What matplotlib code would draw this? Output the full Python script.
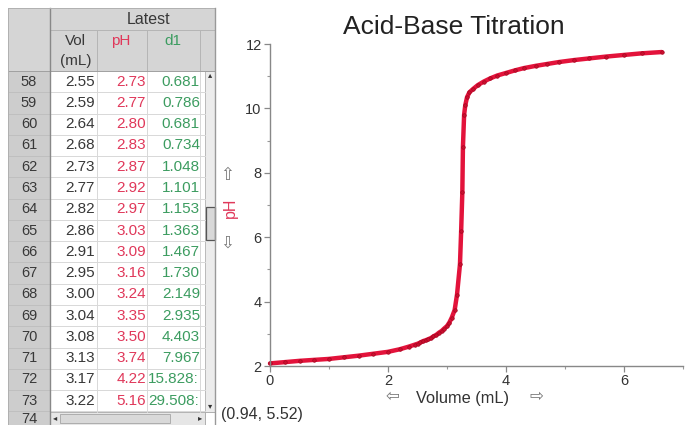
import matplotlib
matplotlib.use("Agg")
import matplotlib.pyplot as plt
from matplotlib.patches import Rectangle
from matplotlib.ticker import MultipleLocator

plt.rcParams['font.family'] = ['Liberation Sans', 'DejaVu Sans']

# ---------------- data ----------------
rows = [58, 59, 60, 61, 62, 63, 64, 65, 66, 67, 68, 69, 70, 71, 72, 73]
table_vol = [2.55, 2.59, 2.64, 2.68, 2.73, 2.77, 2.82, 2.86, 2.91, 2.95,
             3.00, 3.04, 3.08, 3.13, 3.17, 3.22]
table_ph = [2.73, 2.77, 2.80, 2.83, 2.87, 2.92, 2.97, 3.03, 3.09, 3.16,
            3.24, 3.35, 3.50, 3.74, 4.22, 5.16]
table_d1 = ["0.681", "0.786", "0.681", "0.734", "1.048", "1.101", "1.153",
            "1.363", "1.467", "1.730", "2.149", "2.935", "4.403", "7.967",
            "15.828", "29.508"]

pre_vol = [0.00, 0.25, 0.50, 0.75, 1.00, 1.25, 1.50, 1.75, 2.00, 2.20,
           2.35, 2.45, 2.50]
pre_ph = [2.08, 2.12, 2.16, 2.19, 2.22, 2.27, 2.32, 2.38, 2.44, 2.52,
          2.60, 2.66, 2.69]
post_vol = [3.24, 3.26, 3.27, 3.29, 3.31, 3.34, 3.38, 3.44, 3.52, 3.62,
            3.73, 3.85, 4.00, 4.15, 4.30, 4.50, 4.70, 4.90, 5.15, 5.40,
            5.70, 6.00, 6.30, 6.64]
post_ph = [6.2, 7.4, 8.8, 9.8, 10.1, 10.35, 10.5, 10.6, 10.72, 10.83,
           10.93, 11.02, 11.10, 11.18, 11.25, 11.32, 11.38, 11.44, 11.50,
           11.55, 11.61, 11.66, 11.71, 11.75]

curve_vol = pre_vol + table_vol + post_vol
curve_ph = pre_ph + table_ph + post_ph

title = "Acid-Base Titration"
cursor_text = "(0.94, 5.52)"

# ---------------- figure ----------------
W, H = 687, 425
fig = plt.figure(figsize=(W / 100, H / 100), dpi=100)
fig.patch.set_facecolor('white')

ov = fig.add_axes([0, 0, 1, 1], zorder=0)
ov.set_xlim(0, W)
ov.set_ylim(H, 0)
ov.axis('off')
ov.patch.set_alpha(0)

red_t = '#e0385a'
green_t = '#3c9c60'
dark_t = '#383838'

# ----- table -----
gray_hdr = '#d5d5d5'
gray_row = '#cdcdcd'
line_c = '#d8d8d8'
ov.add_patch(Rectangle((8, 8), 207, 63, fc=gray_hdr, ec='none'))
ov.add_patch(Rectangle((8, 71), 42, H - 71, fc=gray_row, ec='none'))
ov.add_patch(Rectangle((50, 71), 155, 341, fc='white', ec='none'))
ov.add_patch(Rectangle((205, 71), 10, 341, fc='#ececec', ec='#b0b0b0', lw=0.6))
ov.add_patch(Rectangle((205.5, 207), 9, 33, fc='#d8d8d8', ec='#555555', lw=0.9))
ov.add_patch(Rectangle((50, 412), 155, 13, fc='#e6e6e6', ec='#a8a8a8', lw=0.6))
ov.add_patch(Rectangle((205, 412), 10, 13, fc='white', ec='#a8a8a8', lw=0.6))
ov.add_patch(Rectangle((60, 414), 110, 9, fc='#d9d9d9', ec='#999999', lw=0.5))

row_h = 21.27
y0 = 71
for i in range(1, 17):
    y = y0 + i * row_h
    if y < 412:
        ov.plot([50, 205], [y, y], color=line_c, lw=0.7)
    ov.plot([8, 50], [y, y], color='#bdbdbd', lw=0.6)
for x in [97, 147, 200]:
    ov.plot([x, x], [30, 71], color='#b5b5b5', lw=0.7)
    ov.plot([x, x], [71, 412], color=line_c, lw=0.7)
ov.plot([50, 215], [30, 30], color='#b5b5b5', lw=0.7)
ov.plot([8, 215], [71, 71], color='#a0a0a0', lw=0.7)
ov.plot([50, 50], [8, H], color='#888888', lw=1.0)
ov.plot([8, 215], [8, 8], color='#b0b0b0', lw=0.7)
ov.plot([215, 215], [8, H], color='#999999', lw=1.0)
ov.plot([8, 8], [8, H], color='#b0b0b0', lw=0.7)

tfs = 11
ov.text(149, 19, "Latest", ha='center', va='center', fontsize=11.5, color=dark_t)
ov.text(75, 41, "Vol", ha='center', va='center', fontsize=tfs, color=dark_t)
ov.text(76, 61, "(mL)", ha='center', va='center', fontsize=tfs, color=dark_t)
ov.text(121, 41, "pH", ha='center', va='center', fontsize=tfs, color=red_t)
ov.text(173, 41, "d1", ha='center', va='center', fontsize=tfs, color=green_t)

clip_rect = Rectangle((50, 71), 153, 341, transform=ov.transData, fc='none', ec='none')
ov.add_patch(clip_rect)
for i, r in enumerate(rows):
    yc = y0 + (i + 0.5) * row_h
    ov.text(29, yc, str(r), ha='center', va='center', fontsize=10.5, color=dark_t)
    ov.text(95, yc, f"{table_vol[i]:.2f}", ha='right', va='center', fontsize=tfs, color=dark_t)
    ov.text(146, yc, f"{table_ph[i]:.2f}", ha='right', va='center', fontsize=tfs, color=red_t)
    if len(table_d1[i]) > 5:
        t = ov.text(148, yc, table_d1[i] + ":", ha='left', va='center', fontsize=tfs, color=green_t)
        t.set_clip_path(clip_rect)
    else:
        ov.text(200, yc, table_d1[i], ha='right', va='center', fontsize=tfs, color=green_t)
ov.text(29, 419, "74", ha='center', va='center', fontsize=10.5, color=dark_t)
ov.text(210, 76, "\u25B4", ha='center', va='center', fontsize=6, color='#333333')
ov.text(210, 407, "\u25BE", ha='center', va='center', fontsize=6, color='#333333')
ov.text(55, 418.5, "\u25C2", ha='center', va='center', fontsize=6, color='#333333')
ov.text(200, 418.5, "\u25B8", ha='center', va='center', fontsize=6, color='#333333')

# ----- annotations around the plot -----
ov.text(454, 27, title, ha='center', va='center', fontsize=19, color='#222222')
ov.text(227, 175, "\u21E7", ha='center', va='center', fontsize=12, color='#777777',
        family=['DejaVu Sans'])
ov.text(227, 243, "\u21E9", ha='center', va='center', fontsize=12, color='#777777',
        family=['DejaVu Sans'])
ov.text(230, 208, "pH", ha='center', va='center', fontsize=11.5, color=red_t, rotation=90)
ov.text(392, 396, "\u21E6", ha='center', va='center', fontsize=12, color='#777777',
        family=['DejaVu Sans'])
ov.text(536, 396, "\u21E8", ha='center', va='center', fontsize=12, color='#777777',
        family=['DejaVu Sans'])
ov.text(463, 399, "Volume (mL)", ha='center', va='center', fontsize=11.8, color='#333333')
ov.text(221, 415, cursor_text, ha='left', va='center', fontsize=11.5, color='#333333')

# ----- plot axes -----
left = 270 / W
right = 683 / W
bottom = 1 - 366 / H
top = 1 - 44 / H
ax = fig.add_axes([left, bottom, right - left, top - bottom], zorder=2)
ax.patch.set_alpha(0)
ax.plot(curve_vol, curve_ph, color='#e3133b', lw=3.2, solid_capstyle='round',
        marker='o', ms=2.6, mfc='#c8102e', mec='#a0001e', mew=0.4, clip_on=False)
ax.set_xlim(0, 7)
ax.set_ylim(2, 12)
ax.xaxis.set_major_locator(MultipleLocator(2))
ax.xaxis.set_minor_locator(MultipleLocator(1))
ax.yaxis.set_major_locator(MultipleLocator(2))
ax.yaxis.set_minor_locator(MultipleLocator(1))
for s in ['top', 'right']:
    ax.spines[s].set_visible(False)
for s in ['left', 'bottom']:
    ax.spines[s].set_color('#888888')
    ax.spines[s].set_linewidth(1.0)
ax.tick_params(which='major', length=4, width=0.9, color='#888888',
               labelsize=10.5, labelcolor='#333333', pad=2)
ax.tick_params(which='minor', length=2, width=0.8, color='#999999')

fig.savefig("out.png", dpi=100, facecolor='white')
